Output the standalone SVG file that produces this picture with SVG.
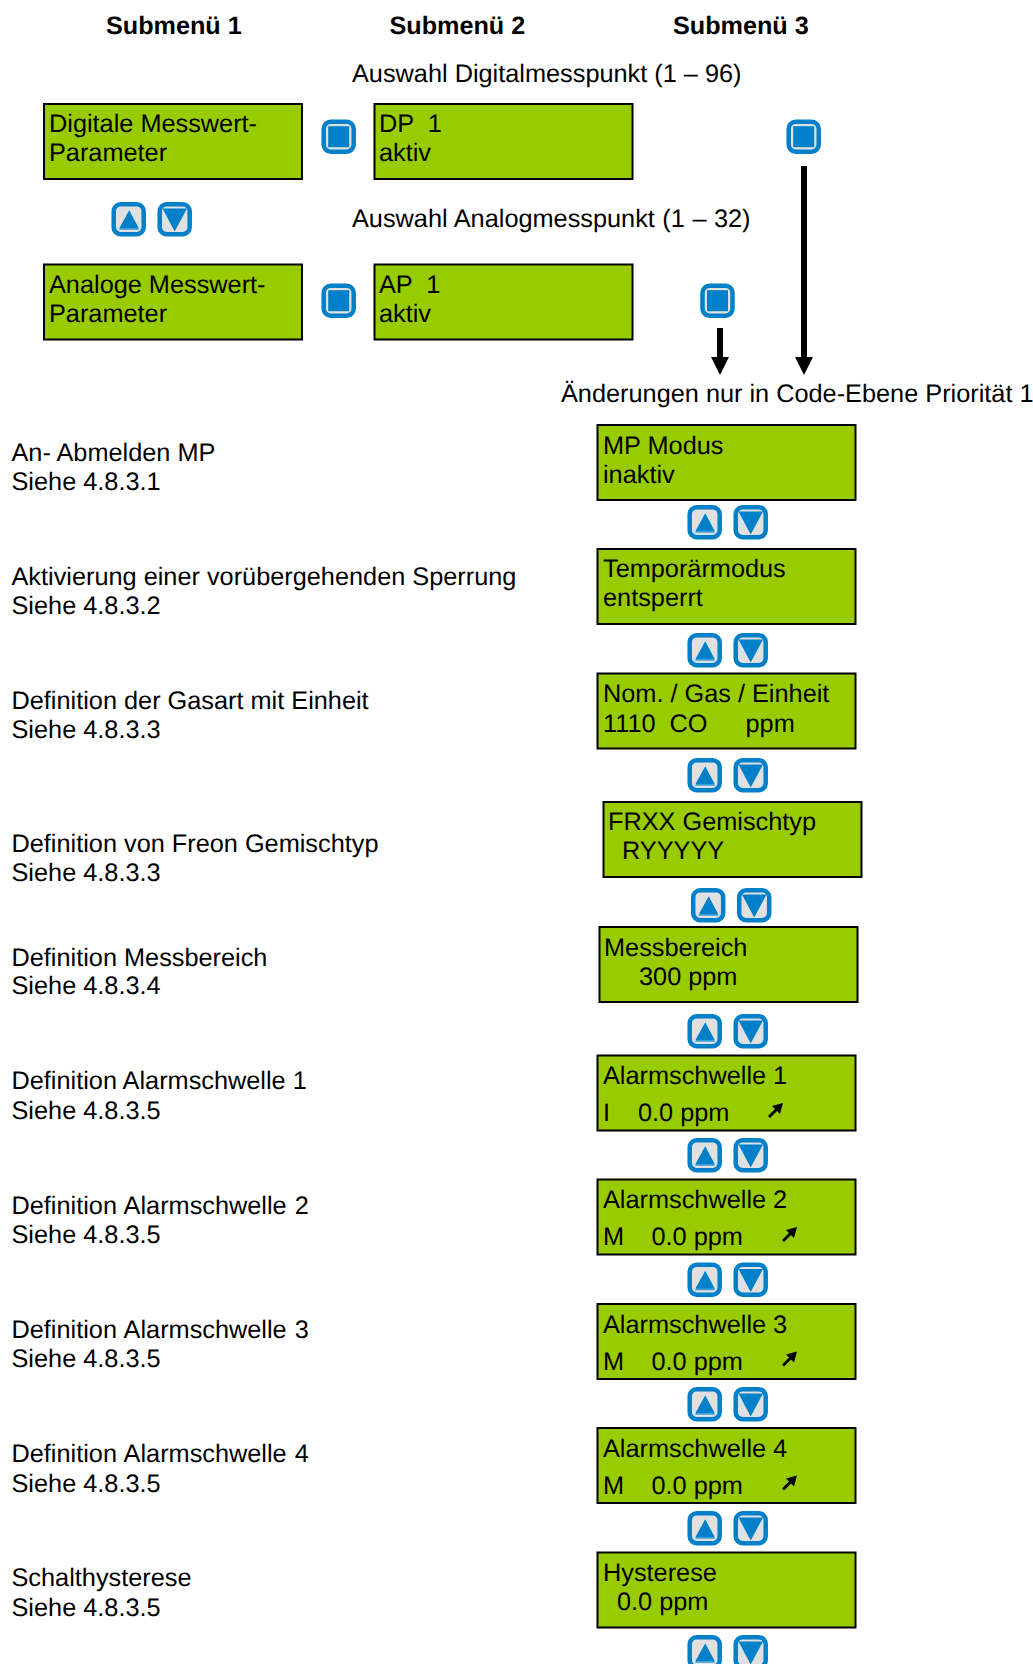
<svg xmlns="http://www.w3.org/2000/svg" width="1033" height="1664" viewBox="0 0 1033 1664">
<style>
text{font-family:"Liberation Sans",Arial,sans-serif;font-size:25.3px;fill:#000;text-rendering:geometricPrecision;white-space:pre}
.h{font-weight:bold;font-size:25.2px}
.w{word-spacing:1px}
.lcd{fill:#99cc00;stroke:#000;stroke-width:2}
.frame{fill:#e0e0e0;stroke:#0080c8;stroke-width:4.5}
.b{fill:#0080c8}
.l{fill:#3aa0dc}
.c{stroke:#000;stroke-width:6;fill:none}
.ah{fill:#000}
</style>
<defs>
<g id="ok"><rect class="frame" x="2.2" y="2.2" width="30" height="30" rx="7"/><rect class="b" x="6.700" y="6.700" width="21" height="21"/></g>
<g id="up"><rect class="frame" x="2.2" y="2.2" width="30" height="30" rx="7"/><path class="l" d="M17.700 8.500L7.500 27.700H27.700Z"/><path class="b" d="M17.700 8.500L8 26H27.200Z"/></g>
<g id="dn"><rect class="frame" x="2.2" y="2.2" width="30" height="30" rx="7"/><path class="b" d="M5 6.500H29.500L17.200 29.500Z"/></g>
<g id="sa"><path d="M0.500 13.500L10 4" stroke="#000" stroke-width="2.800" fill="none"/><path class="ah" d="M14.500 -0.500L3.500 2.500L11.500 10.500Z"/></g>
</defs>
<g id="headers"><text class="h" x="106" y="34">Submenü 1</text><text class="h" x="389.500" y="34">Submenü 2</text><text class="h" x="673" y="34">Submenü 3</text></g>
<g id="captions"><text x="352" y="82">Auswahl Digitalmesspunkt (1 – 96)</text><text x="352" y="227" style="word-spacing:.5px">Auswahl Analogmesspunkt (1 – 32)</text><text x="561" y="402">Änderungen nur in Code-Ebene Priorität 1</text></g>
<g id="labels">
<text x="11.500" y="461">An- Abmelden MP</text><text x="11.500" y="490">Siehe 4.8.3.1</text>
<text x="11.500" y="585">Aktivierung einer vorübergehenden Sperrung</text><text x="11.500" y="614">Siehe 4.8.3.2</text>
<text x="11.500" y="709">Definition der Gasart mit Einheit</text><text x="11.500" y="738">Siehe 4.8.3.3</text>
<text x="11.500" y="852">Definition von Freon Gemischtyp</text><text x="11.500" y="881">Siehe 4.8.3.3</text>
<text x="11.500" y="965.500">Definition Messbereich</text><text x="11.500" y="994">Siehe 4.8.3.4</text>
<text x="11.500" y="1089">Definition Alarmschwelle 1</text><text x="11.500" y="1119">Siehe 4.8.3.5</text>
<text class="w" x="11.500" y="1214">Definition Alarmschwelle 2</text><text x="11.500" y="1243">Siehe 4.8.3.5</text>
<text class="w" x="11.500" y="1338">Definition Alarmschwelle 3</text><text x="11.500" y="1367">Siehe 4.8.3.5</text>
<text class="w" x="11.500" y="1462">Definition Alarmschwelle 4</text><text x="11.500" y="1492">Siehe 4.8.3.5</text>
<text x="11.500" y="1586">Schalthysterese</text><text x="11.500" y="1615.500">Siehe 4.8.3.5</text>
</g>
<g id="n-digital"><rect class="lcd" x="44" y="104" width="258" height="75"/><text x="49" y="132">Digitale Messwert-</text><text x="49" y="161">Parameter</text></g>
<g id="n-dp"><rect class="lcd" x="374.500" y="104" width="258" height="75"/><text x="379" y="132">DP  1</text><text x="379" y="161">aktiv</text></g>
<g id="n-analog"><rect class="lcd" x="44" y="264.500" width="258" height="75"/><text x="49" y="293">Analoge Messwert-</text><text x="49" y="322">Parameter</text></g>
<g id="n-ap"><rect class="lcd" x="374.500" y="264.500" width="258" height="75"/><text x="379" y="293">AP  1</text><text x="379" y="322">aktiv</text></g>
<g id="n-mp"><rect class="lcd" x="597.500" y="425" width="258" height="75"/><text x="603" y="453.500">MP Modus</text><text x="603" y="482.500">inaktiv</text></g>
<g id="n-temp"><rect class="lcd" x="597.500" y="549" width="258" height="75"/><text x="603" y="577">Temporärmodus</text><text x="603" y="606">entsperrt</text></g>
<g id="n-gas"><rect class="lcd" x="597.500" y="673.500" width="258" height="75"/><text x="603" y="702">Nom. / Gas / Einheit</text><text x="603" y="732">1110  CO</text><text x="745.500" y="732">ppm</text></g>
<g id="n-frxx"><rect class="lcd" x="603.500" y="802" width="258" height="75"/><text x="608" y="830">FRXX Gemischtyp</text><text x="622" y="859">RYYYYY</text></g>
<g id="n-range"><rect class="lcd" x="599.500" y="927" width="258" height="75"/><text x="604" y="955.500">Messbereich</text><text x="639" y="984.500">300 ppm</text></g>
<g id="n-a1"><rect class="lcd" x="597.500" y="1055.500" width="258" height="75"/><text x="603" y="1084">Alarmschwelle 1</text><text x="603" y="1121">I</text><text x="638" y="1121">0.0 ppm</text><use href="#sa" x="768.500" y="1103.500"/></g>
<g id="n-a2"><rect class="lcd" x="597.500" y="1179.500" width="258" height="75"/><text x="603" y="1208">Alarmschwelle 2</text><text x="603" y="1245">M</text><text x="651.500" y="1245">0.0 ppm</text><use href="#sa" x="782.500" y="1227.500"/></g>
<g id="n-a3"><rect class="lcd" x="597.500" y="1304" width="258" height="75"/><text x="603" y="1333">Alarmschwelle 3</text><text x="603" y="1370">M</text><text x="651.500" y="1370">0.0 ppm</text><use href="#sa" x="782.500" y="1352"/></g>
<g id="n-a4"><rect class="lcd" x="597.500" y="1428" width="258" height="75"/><text x="603" y="1457">Alarmschwelle 4</text><text x="603" y="1494">M</text><text x="651.500" y="1494">0.0 ppm</text><use href="#sa" x="782.500" y="1476"/></g>
<g id="n-hyst"><rect class="lcd" x="597.500" y="1552.500" width="258" height="75"/><text x="603" y="1581">Hysterese</text><text x="617" y="1610">0.0 ppm</text></g>
<g id="buttons">
<use href="#ok" x="321.500" y="119.500"/><use href="#ok" x="321.500" y="283.500"/><use href="#ok" x="786.500" y="119.500"/><use href="#ok" x="700.300" y="283.500"/>
<use href="#up" x="111.500" y="202"/><use href="#dn" x="157.500" y="202"/>
<use href="#up" x="687.500" y="505"/><use href="#dn" x="733.500" y="505"/>
<use href="#up" x="687.500" y="633"/><use href="#dn" x="733.500" y="633"/>
<use href="#up" x="687.500" y="758"/><use href="#dn" x="733.500" y="758"/>
<use href="#up" x="691" y="888"/><use href="#dn" x="737" y="888"/>
<use href="#up" x="687.500" y="1014"/><use href="#dn" x="733.500" y="1014"/>
<use href="#up" x="687.500" y="1138"/><use href="#dn" x="733.500" y="1138"/>
<use href="#up" x="687.500" y="1262.500"/><use href="#dn" x="733.500" y="1262.500"/>
<use href="#up" x="687.500" y="1387"/><use href="#dn" x="733.500" y="1387"/>
<use href="#up" x="687.500" y="1511"/><use href="#dn" x="733.500" y="1511"/>
<use href="#up" x="687.500" y="1635"/><use href="#dn" x="733.500" y="1635"/>
</g>
<g id="connectors">
<path class="c" d="M804 166V358"/><path class="ah" d="M795 357H813L804 375Z"/>
<path class="c" d="M720 328V358"/><path class="ah" d="M711 357H729L720 375Z"/>
</g>
</svg>
